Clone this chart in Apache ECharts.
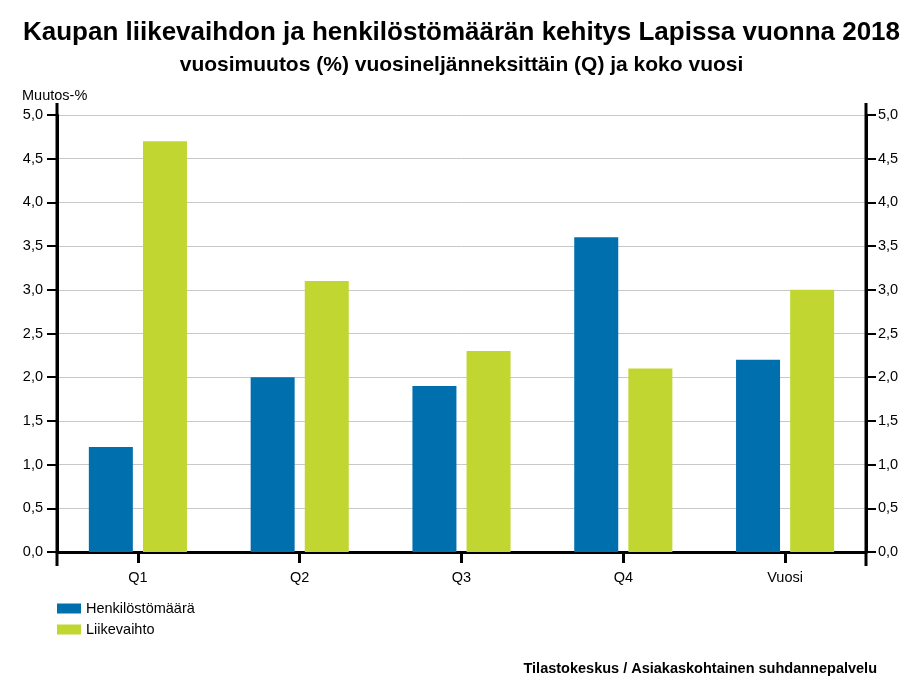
<!DOCTYPE html>
<html><head><meta charset="utf-8">
<script src="https://cdn.jsdelivr.net/npm/echarts@6/dist/echarts.min.js"></script>
<style>html,body{margin:0;padding:0;background:#fff}#c{width:923px;height:692px}</style>
</head><body><div id="c"></div>
<script>
const categories = ['Q1','Q2','Q3','Q4','Vuosi'];
const henkilosto = [1.2, 2.0, 1.9, 3.6, 2.2];
const liikevaihto = [4.7, 3.1, 2.3, 2.1, 3.0];
const seriesNames = ['Henkilöstömäärä','Liikevaihto'];
const yMin = 0, yMax = 5, yStep = 0.5;

const chart = echarts.init(document.getElementById('c'), null, {renderer:'canvas'});
const fmt = v => v.toFixed(1).replace('.', ',');
const font = 'Liberation Sans, Arial, sans-serif';
const fs = 14.5;
const L = 57, R = 866, T = 115, B = 552;
const yAxisCommon = {
  type:'value', min:yMin, max:yMax, interval:yStep,
  axisLine:{show:true, lineStyle:{color:'#000', width:3}},
  axisTick:{show:true, length:10, lineStyle:{color:'#000', width:2}},
};
chart.setOption({
  animation:false,
  textStyle:{fontFamily:font},
  title:[
    {text:'Kaupan liikevaihdon ja henkilöstömäärän kehitys Lapissa vuonna 2018', left:'center', top:15,
     textStyle:{fontSize:26, fontWeight:'bold', color:'#000', fontFamily:font}},
    {text:'vuosimuutos (%) vuosineljänneksittäin (Q) ja koko vuosi', left:'center', top:50,
     textStyle:{fontSize:21, fontWeight:'bold', color:'#000', fontFamily:font}},
    {text:'Muutos-%', left:17, top:83, textStyle:{fontSize:fs, fontWeight:'normal', color:'#000', fontFamily:font}},
    {text:'Tilastokeskus / Asiakaskohtainen suhdannepalvelu', right:41, top:656,
     textStyle:{fontSize:fs, fontWeight:'bold', color:'#000', fontFamily:font}}
  ],
  legend:{orient:'vertical', left:52, top:596, itemWidth:24, itemHeight:10, itemGap:6,
    icon:'rect', textStyle:{fontSize:fs, color:'#000', fontFamily:font}, data:seriesNames},
  grid:{left:L, right:923-R, top:T, bottom:692-B, containLabel:false},
  xAxis:{type:'category', data:categories,
    axisLine:{show:true, lineStyle:{color:'#000', width:3}},
    axisTick:{show:true, alignWithLabel:true, length:11, lineStyle:{color:'#000', width:3}},
    axisLabel:{color:'#000', fontSize:fs, fontFamily:font, margin:18}},
  yAxis:[
    Object.assign({}, yAxisCommon, {position:'left', splitLine:{show:true, lineStyle:{color:'#c8c8c8', width:1}},
      axisLabel:{formatter:fmt, color:'#000', fontSize:fs, fontFamily:font, margin:14}}),
    Object.assign({}, yAxisCommon, {position:'right', splitLine:{show:false},
      axisLabel:{formatter:fmt, color:'#000', fontSize:fs, fontFamily:font, margin:12}})
  ],
  graphic:[
    {type:'line', shape:{x1:L, y1:103, x2:L, y2:566}, style:{stroke:'#000', lineWidth:3}, z:100},
    {type:'line', shape:{x1:R, y1:103, x2:R, y2:566}, style:{stroke:'#000', lineWidth:3}, z:100}
  ],
  series:[
    {name:seriesNames[0], type:'bar', data:henkilosto, barWidth:44, barGap:'23%', itemStyle:{color:'#006fae'}},
    {name:seriesNames[1], type:'bar', data:liikevaihto, barWidth:44, barGap:'23%', itemStyle:{color:'#c1d631'}}
  ]
});
</script></body></html>
